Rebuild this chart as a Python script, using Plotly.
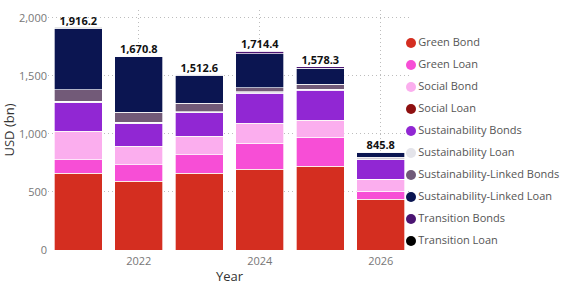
import plotly.graph_objects as go

years = [2021, 2022, 2023, 2024, 2025, 2026]
totals = [1916.2, 1670.8, 1512.6, 1714.4, 1578.3, 845.8]

series_names = ["Green Bond", "Green Loan", "Social Bond", "Social Loan",
                "Sustainability Bonds", "Sustainability Loan",
                "Sustainability-Linked Bonds", "Sustainability-Linked Loan",
                "Transition Bonds", "Transition Loan"]

green_bond = [661, 593, 661, 696, 722, 438]
green_loan = [118, 140, 158, 221, 249, 69]
social_bond = [237, 157, 157, 168, 143, 100]
social_loan = [5, 5, 5, 5, 5, 3]
sustainability_bonds = [245, 193, 199, 259, 256, 169]
sustainability_loan = [15, 10, 12, 12, 10, 8]
sl_bonds = [100, 88, 71, 37, 41, 12]
sl_loan = [528, 481, 243, 291, 138, 37]
transition_bonds = [5, 3, 5, 22, 12, 7]
transition_loan = [2, 1, 1, 3, 2, 2]

series_values = [green_bond, green_loan, social_bond, social_loan,
                 sustainability_bonds, sustainability_loan, sl_bonds,
                 sl_loan, transition_bonds, transition_loan]

colors = ["#D42E20", "#F74ED6", "#FBAEEE", "#8E1010", "#9127D3",
          "#E4E4EA", "#725A78", "#0B1551", "#4B1472", "#000000"]

FONT = "Open Sans"
fig = go.Figure()

for name, vals, col in zip(series_names, series_values, colors):
    fig.add_trace(go.Bar(
        x=years, y=vals, name=name, marker_color=col,
        marker_line=dict(color="rgba(255,255,255,0.85)", width=0.8),
        showlegend=False,
    ))

fig.add_trace(go.Scatter(
    x=years, y=totals, mode="text",
    text=[f"{v:,.1f}" for v in totals],
    textposition="top center",
    textfont=dict(family=FONT, size=11, color="#111111", weight="bold"),
    showlegend=False, hoverinfo="skip", cliponaxis=False,
))

# Custom legend (pixel-mapped overlay axis)
L, R, T, B = 48, 151, 10, 35
W, H = 562, 285
leg_x = 411
leg_y0, leg_dy = 43, 22
fig.add_trace(go.Scatter(
    x=[leg_x] * len(series_names),
    y=[leg_y0 + leg_dy * i for i in range(len(series_names))],
    mode="markers+text",
    marker=dict(color=colors, size=10, symbol="circle"),
    text=series_names,
    textposition="middle right",
    textfont=dict(family=FONT, size=11, color="#555555"),
    xaxis="x2", yaxis="y2", showlegend=False, hoverinfo="skip",
    cliponaxis=False,
))

grid = dict(showgrid=True, gridcolor="#BDBDBD", griddash="1px,3px", gridwidth=1,
            zeroline=False, showline=False, ticks="", automargin=False)

fig.update_layout(
    width=W, height=H,
    margin=dict(l=L, r=R, t=T, b=B),
    barmode="stack", bargap=0.21,
    plot_bgcolor="white", paper_bgcolor="white",
    font=dict(family=FONT, color="#777777"),
    xaxis=dict(
        range=[2020.5, 2026.5], tickvals=[2022, 2024, 2026],
        tickfont=dict(size=11, color="#777777"), ticklabelstandoff=3,
        title=dict(text="Year", font=dict(size=13, color="#333333"), standoff=5),
        **grid,
    ),
    yaxis=dict(
        range=[0, 2066], tickvals=[0, 500, 1000, 1500, 2000], tickformat=",",
        tickfont=dict(size=11, color="#777777"),
        title=dict(text="USD (bn)", font=dict(size=13, color="#333333"), standoff=6),
        **grid,
    ),
    xaxis2=dict(overlaying="x", range=[L, W - R], visible=False, fixedrange=True),
    yaxis2=dict(overlaying="y", range=[H - B, T], visible=False, fixedrange=True),
)

fig.write_html("out.html")
